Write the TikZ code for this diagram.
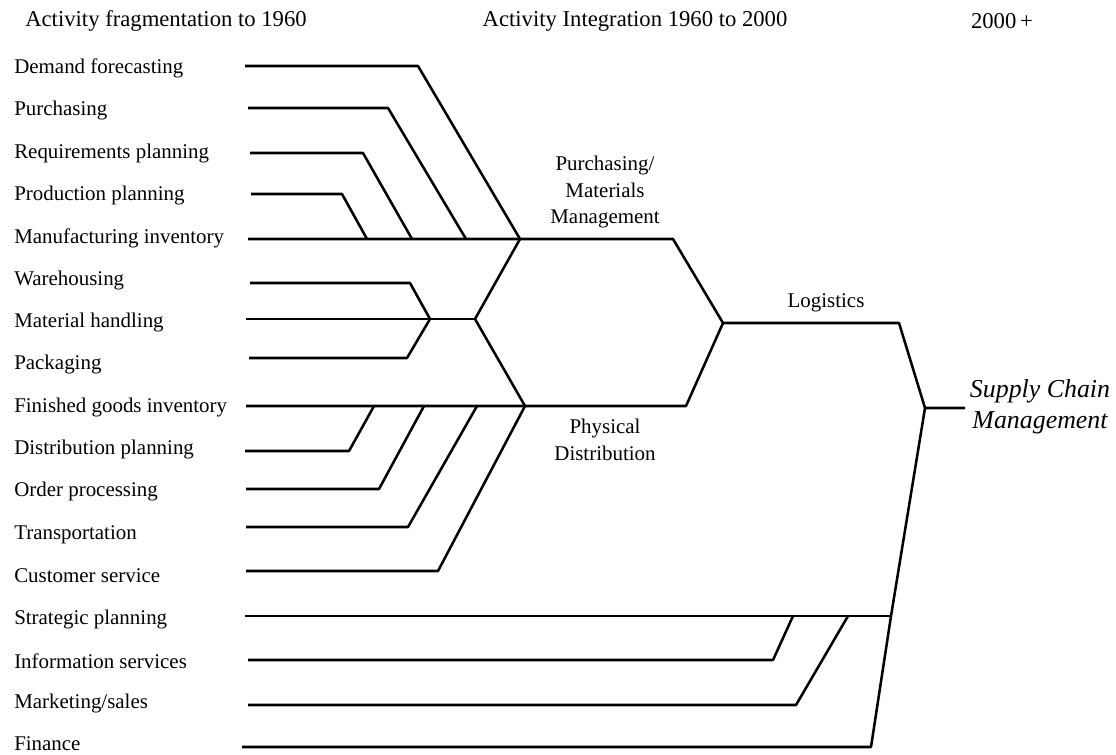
\documentclass[tikz,border=0pt]{standalone}
\usepackage{fontspec}
\setmainfont{Liberation Serif}

\begin{document}
\begin{tikzpicture}[x=0.75pt, y=-0.75pt,
    branch/.style={draw=black, line width=1.9pt, line join=round},
    activity/.style={anchor=west, inner sep=0pt, font=\fontsize{15.7}{18}\selectfont},
    stage/.style={align=center, inner sep=0pt, font=\fontsize{15.7}{19.8}\selectfont},
    era/.style={inner sep=0pt, font=\fontsize{17}{20}\selectfont}]

    \useasboundingbox (0,0) rectangle (1116,754);

    % era headings
    \node[era] (era_fragment) at (166,21) {Activity fragmentation to 1960};
    \node[era] (era_integration) at (635,21) {Activity Integration 1960 to 2000};
    \node[era] (era_future) at (1002,21) {2000\,+};

    % activities
    \node[activity] (demand) at (14,68.5) {Demand forecasting};
    \node[activity] (purchasing) at (14,110.5) {Purchasing};
    \node[activity] (requirements) at (14,153.5) {Requirements planning};
    \node[activity] (production) at (14,195.5) {Production planning};
    \node[activity] (manufacturing) at (14,238.5) {Manufacturing inventory};
    \node[activity] (warehousing) at (14,280.5) {Warehousing};
    \node[activity] (handling) at (14,322.5) {Material handling};
    \node[activity] (packaging) at (14,364.5) {Packaging};
    \node[activity] (finished) at (14,407.5) {Finished goods inventory};
    \node[activity] (distribution) at (14,449.5) {Distribution planning};
    \node[activity] (order) at (14,491.5) {Order processing};
    \node[activity] (transport) at (14,534.5) {Transportation};
    \node[activity] (customer) at (14,576) {Customer service};
    \node[activity] (strategic) at (14,619) {Strategic planning};
    \node[activity] (information) at (14,661.5) {Information services};
    \node[activity] (marketing) at (14,703.5) {Marketing/sales};
    \node[activity] (finance) at (14,744) {Finance};

    % integrated functions
    \node[stage] (pmm_label) at (605,192) {Purchasing/\\Materials\\Management};
    \node[stage] (pd_label) at (605,440) {Physical\\Distribution};
    \node[stage] (logistics_label) at (826,303) {Logistics};
    \node[stage, font=\fontsize{19.4}{23.3}\selectfont\itshape] (scm_label) at (1040,407) {Supply Chain\\Management};

    % junctions
    \coordinate (pmm_left) at (520,239);
    \coordinate (pmm_right) at (673,239);
    \coordinate (pd_left) at (525,406);
    \coordinate (pd_right) at (686,406);
    \coordinate (handling_join) at (430,319);
    \coordinate (middle_join) at (475,319);
    \coordinate (logistics_left) at (723,323);
    \coordinate (logistics_right) at (899,323);
    \coordinate (scm_join) at (925,408);
    \coordinate (scm_end) at (965,408);
    \coordinate (strategic_join) at (891,616);

    % line ends and bends
    \coordinate (demand_start) at (245,66);
    \coordinate (demand_bend) at (418,66);
    \coordinate (purchasing_start) at (248,108);
    \coordinate (purchasing_bend) at (388,108);
    \coordinate (purchasing_join) at (466,239);
    \coordinate (requirements_start) at (250,153);
    \coordinate (requirements_bend) at (363,153);
    \coordinate (requirements_join) at (412,239);
    \coordinate (production_start) at (251,194);
    \coordinate (production_bend) at (342,194);
    \coordinate (production_join) at (367,239);
    \coordinate (manufacturing_start) at (248,239);
    \coordinate (warehousing_start) at (250,283);
    \coordinate (warehousing_bend) at (410,283);
    \coordinate (handling_start) at (246,319);
    \coordinate (packaging_start) at (249,358);
    \coordinate (packaging_bend) at (407,358);
    \coordinate (finished_start) at (246,406);
    \coordinate (distribution_start) at (245,451);
    \coordinate (distribution_bend) at (349,451);
    \coordinate (distribution_join) at (374,406);
    \coordinate (order_start) at (246,489);
    \coordinate (order_bend) at (379,489);
    \coordinate (order_join) at (424,406);
    \coordinate (transport_start) at (246,527);
    \coordinate (transport_bend) at (408,527);
    \coordinate (transport_join) at (477,406);
    \coordinate (customer_start) at (246,571);
    \coordinate (customer_bend) at (438,571);
    \coordinate (strategic_start) at (245,616);
    \coordinate (information_start) at (248,660);
    \coordinate (information_bend) at (773,660);
    \coordinate (information_join) at (793,616);
    \coordinate (marketing_start) at (248,705);
    \coordinate (marketing_bend) at (796,705);
    \coordinate (marketing_join) at (848,616);
    \coordinate (finance_start) at (242,747);
    \coordinate (finance_bend) at (871,747);

    % purchasing / materials management
    \path[branch] (demand_start) -- (demand_bend) -- (pmm_left);
    \path[branch] (purchasing_start) -- (purchasing_bend) -- (purchasing_join);
    \path[branch] (requirements_start) -- (requirements_bend) -- (requirements_join);
    \path[branch] (production_start) -- (production_bend) -- (production_join);
    \path[branch] (manufacturing_start) -- (pmm_left) -- (pmm_right) -- (logistics_left);

    % shared handling activities
    \path[branch] (warehousing_start) -- (warehousing_bend) -- (handling_join);
    \path[branch] (packaging_start) -- (packaging_bend) -- (handling_join);
    \path[branch] (handling_start) -- (middle_join);
    \path[branch] (pmm_left) -- (middle_join) -- (pd_left);

    % physical distribution
    \path[branch] (finished_start) -- (pd_left) -- (pd_right) -- (logistics_left);
    \path[branch] (distribution_start) -- (distribution_bend) -- (distribution_join);
    \path[branch] (order_start) -- (order_bend) -- (order_join);
    \path[branch] (transport_start) -- (transport_bend) -- (transport_join);
    \path[branch] (customer_start) -- (customer_bend) -- (pd_left);

    % logistics and supply chain management
    \path[branch] (logistics_left) -- (logistics_right) -- (scm_join) -- (scm_end);
    \path[branch] (strategic_start) -- (strategic_join);
    \path[branch] (information_start) -- (information_bend) -- (information_join);
    \path[branch] (marketing_start) -- (marketing_bend) -- (marketing_join);
    \path[branch] (finance_start) -- (finance_bend) -- (strategic_join) -- (scm_join);

\end{tikzpicture}
\end{document}
